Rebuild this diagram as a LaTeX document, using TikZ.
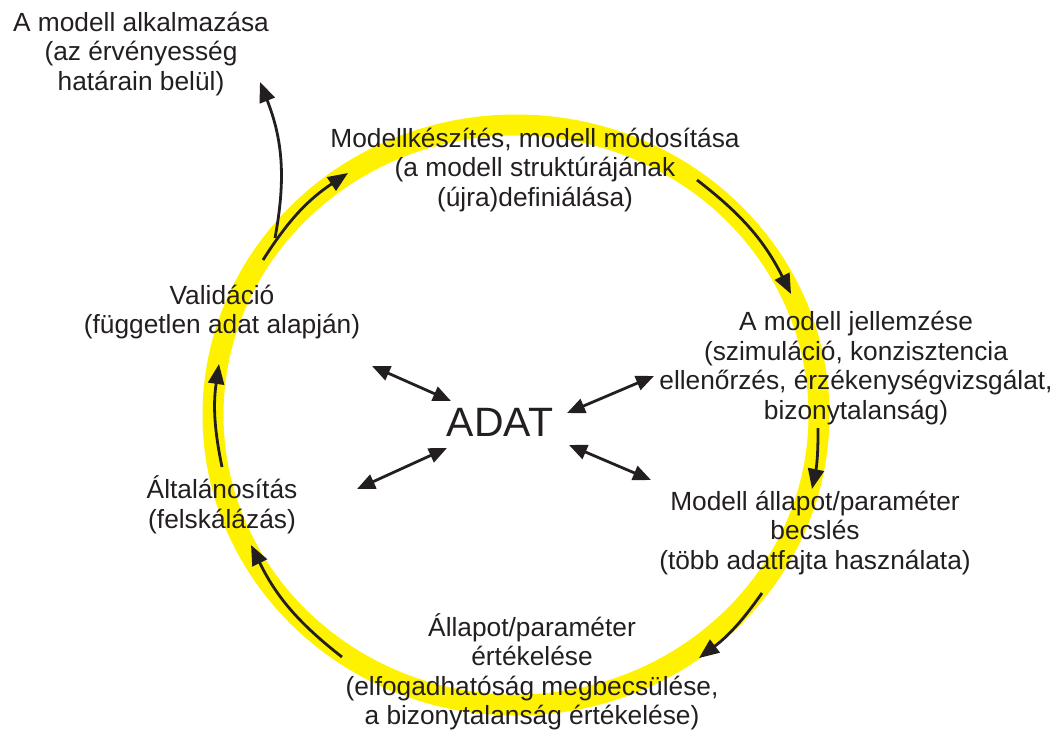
\documentclass[tikz,border=0pt]{standalone}
\usepackage{fontspec}
\setmainfont{Liberation Sans}
\usetikzlibrary{arrows.meta}

\definecolor{ringyellow}{RGB}{255,242,0}
\definecolor{txtblack}{RGB}{35,31,32}

\begin{document}
\begin{tikzpicture}[x=1pt, y=-1pt,
    lbl/.style={align=center, inner sep=0pt, text=txtblack, font=\fontsize{26.3}{29.5}\selectfont},
    flow/.style={line width=2.8pt, draw=txtblack, -{Triangle[length=20pt, width=16pt]}},
    link/.style={line width=2.8pt, draw=txtblack, {Triangle[length=18pt, width=15pt]}-{Triangle[length=18pt, width=15pt]}}]
            \useasboundingbox (0,0) rectangle (1059,729);
            % the cycle
            \draw[ringyellow, line width=21pt] (516,415) ellipse [x radius=303, y radius=290];

            \node[lbl] (application) at (141,54) {A modell alkalmazása \\ (az érvényesség \\ határain belül)};
            \node[lbl] (model_building) at (535,170) {Modellkészítés, modell módosítása \\ (a modell struktúrájának \\ (újra)definiálása)};
            \node[lbl] (characterisation) at (856,368) {A modell jellemzése \\ (szimuláció, konzisztencia \\ ellenőrzés, érzékenységvizsgálat, \\ bizonytalanság)};
            \node[lbl] (estimation) at (815,533) {Modell állapot/paraméter \\ becslés \\ (több adatfajta használata)};
            \node[lbl] (evaluation) at (532,672) {Állapot/paraméter \\ értékelése \\ (elfogadhatóság megbecsülése, \\ a bizonytalanság értékelése)};
            \node[lbl] (generalisation) at (222,505) {Általánosítás \\ (felskálázás)};
            \node[lbl] (validation) at (222,312) {Validáció \\ (független adat alapján)};
            \node[text=txtblack, font=\fontsize{41}{41}\selectfont, inner sep=0pt] (data) at (500,422) {ADAT};

            % ends of the arrows along the ring
            \coordinate (a_start) at (263,260);
            \coordinate (a_end) at (348,173);
            \coordinate (b_start) at (275,238);
            \coordinate (b_end) at (260,82);
            \coordinate (c_start) at (697,180);
            \coordinate (c_end) at (791,294);
            \coordinate (d_start) at (818,428);
            \coordinate (d_end) at (812,489);
            \coordinate (e_start) at (762,593);
            \coordinate (e_end) at (699,658);
            \coordinate (f_start) at (342,657);
            \coordinate (f_end) at (251,545);
            \coordinate (g_start) at (222,467);
            \coordinate (g_end) at (219,364);

            \draw[flow] (a_start) to[bend left=12] (a_end);
            \draw[flow] (b_start) to[bend right=16] (b_end);
            \draw[flow] (c_start) to[bend left=13] (c_end);
            \draw[flow] (d_start) to[bend left=6] (d_end);
            \draw[flow] (e_start) to[bend left=9] (e_end);
            \draw[flow] (f_start) to[bend left=13] (f_end);
            \draw[flow] (g_start) to[bend left=10] (g_end);

            % data links
            \coordinate (ul_end) at (372,366);
            \coordinate (ul_data) at (451,401);
            \coordinate (ur_data) at (567,413);
            \coordinate (ur_end) at (654,376);
            \coordinate (ll_end) at (357,489);
            \coordinate (ll_data) at (447,448);
            \coordinate (lr_data) at (569,445);
            \coordinate (lr_end) at (651,480);
            \draw[link] (ul_end) -- (ul_data);
            \draw[link] (ur_data) -- (ur_end);
            \draw[link] (ll_end) -- (ll_data);
            \draw[link] (lr_data) -- (lr_end);
        \end{tikzpicture}
\end{document}
